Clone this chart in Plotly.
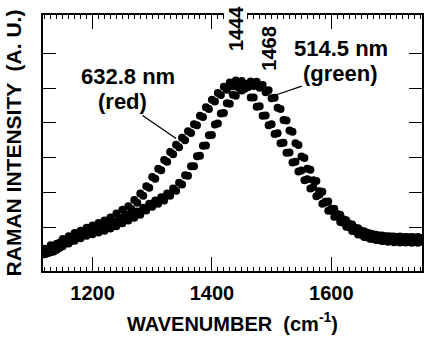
import plotly.graph_objects as go

WAVENUMBER = list(range(1120, 1755, 5))

RED_632 = [
    0.38, 0.25, 0.48, 0.30, 0.52, 0.41, 0.66, 0.53, 0.74, 0.61,
    0.83, 0.70, 0.90, 0.77, 0.98, 0.86, 1.05, 0.92, 1.12, 0.98,
    1.19, 1.07, 1.28, 1.16, 1.39, 1.27, 1.50, 1.37, 1.60, 1.52,
    1.78, 1.70, 1.97, 1.90, 2.18, 2.13, 2.44, 2.39, 2.68, 2.64,
    2.93, 2.88, 3.16, 3.10, 3.37, 3.30, 3.57, 3.50, 3.76, 3.71,
    3.96, 3.93, 4.20, 4.17, 4.45, 4.40, 4.66, 4.61, 4.86, 4.80,
    5.04, 4.95, 5.16, 5.05, 5.22, 5.08, 5.20, 4.98, 5.02, 4.73,
    4.73, 4.46, 4.48, 4.20, 4.21, 3.93, 3.96, 3.68, 3.70, 3.41,
    3.43, 3.14, 3.15, 2.86, 2.88, 2.60, 2.63, 2.35, 2.38, 2.11,
    2.15, 1.89, 1.93, 1.67, 1.71, 1.47, 1.53, 1.30, 1.38, 1.15,
    1.23, 1.01, 1.10, 0.89, 0.98, 0.79, 0.90, 0.72, 0.84, 0.67,
    0.80, 0.63, 0.76, 0.60, 0.74, 0.58, 0.73, 0.57, 0.72, 0.56,
    0.71, 0.56, 0.71, 0.55, 0.70, 0.55, 0.69,
]

GREEN_514 = [
    0.22, 0.37, 0.28, 0.45, 0.35, 0.55, 0.45, 0.63, 0.53, 0.72,
    0.61, 0.79, 0.68, 0.86, 0.75, 0.92, 0.80, 0.97, 0.85, 1.02,
    0.90, 1.07, 0.96, 1.13, 1.03, 1.21, 1.11, 1.29, 1.19, 1.37,
    1.27, 1.45, 1.36, 1.56, 1.48, 1.67, 1.59, 1.77, 1.67, 1.86,
    1.77, 1.97, 1.90, 2.11, 2.05, 2.28, 2.23, 2.49, 2.48, 2.75,
    2.75, 3.04, 3.05, 3.34, 3.35, 3.64, 3.65, 3.95, 3.98, 4.27,
    4.28, 4.56, 4.55, 4.81, 4.78, 5.00, 4.93, 5.12, 5.03, 5.19,
    5.06, 5.18, 5.01, 5.09, 4.88, 4.94, 4.71, 4.72, 4.43, 4.40,
    4.08, 4.07, 3.78, 3.74, 3.41, 3.36, 3.03, 2.99, 2.68, 2.65,
    2.35, 2.33, 2.03, 2.02, 1.73, 1.74, 1.48, 1.53, 1.31, 1.36,
    1.13, 1.20, 1.00, 1.08, 0.88, 0.97, 0.78, 0.88, 0.71, 0.82,
    0.66, 0.78, 0.63, 0.76, 0.61, 0.74, 0.60, 0.73, 0.59, 0.73,
    0.58, 0.72, 0.58, 0.72, 0.58, 0.72, 0.58,
]

X_LABELED = [1200, 1400, 1600]
X_LABEL_TEXT = ["1200", "1400", "1600"]
X_ODD_HUNDREDS = [1300, 1500, 1700]
X_FIFTIES = list(range(1150, 1751, 50))
Y_TICKS = [1, 2, 3, 4, 5, 6]
X_RANGE = [1117, 1752]
Y_RANGE = [-0.26, 7.10]

FONT = "Liberation Sans"
BLACK = "#000000"

fig = go.Figure()
fig.add_trace(go.Scatter(x=WAVENUMBER, y=RED_632, mode="markers",
                         marker=dict(color=BLACK, size=8), name="632.8 nm"))
fig.add_trace(go.Scatter(x=WAVENUMBER, y=GREEN_514, mode="markers",
                         marker=dict(color=BLACK, size=8), name="514.5 nm"))

overlay = dict(range=X_RANGE, overlaying="x", anchor="y", side="bottom",
               showgrid=False, zeroline=False, showline=False, mirror="ticks",
               ticks="inside", tickcolor=BLACK, showticklabels=False)

fig.update_layout(
    width=425, height=339,
    margin=dict(l=43, r=1, t=15, b=68),
    paper_bgcolor="white", plot_bgcolor="white",
    showlegend=False,
    font=dict(family=FONT, color=BLACK, size=20, weight="bold"),
    xaxis=dict(
        range=X_RANGE, showgrid=False, zeroline=False,
        showline=True, linecolor=BLACK, linewidth=1.5, mirror="ticks",
        ticks="inside", ticklen=14, tickwidth=1.2, tickcolor=BLACK,
        tickvals=X_LABELED, ticktext=X_LABEL_TEXT,
        tickfont=dict(family=FONT, size=20, weight="bold", color=BLACK),
        ticklabelstandoff=3,
        minor=dict(dtick=10, ticks="inside", ticklen=4, tickwidth=1,
                   tickcolor=BLACK, showgrid=False),
        title=dict(text="WAVENUMBER  (cm<sup>-1</sup>)", standoff=14,
                   font=dict(family=FONT, size=20, weight="bold", color=BLACK)),
    ),
    xaxis2=dict(overlay, tickvals=X_ODD_HUNDREDS, ticklen=14, tickwidth=1.2),
    xaxis3=dict(overlay, tickvals=X_FIFTIES, ticklen=8, tickwidth=1.2),
    yaxis=dict(
        range=Y_RANGE, showgrid=False, zeroline=False,
        showline=True, linecolor=BLACK, linewidth=1.5, mirror="ticks",
        ticks="inside", ticklen=13, tickwidth=1.2, tickcolor=BLACK,
        tickvals=Y_TICKS, showticklabels=False,
        title=dict(text="RAMAN INTENSITY  (A. U.)", standoff=14,
                   font=dict(family=FONT, size=21, weight="bold", color=BLACK)),
    ),
)

ann_font = dict(family=FONT, size=22, weight="bold", color=BLACK)
fig.add_annotation(x=1260, y=5.34, text="632.8 nm", showarrow=False, font=ann_font)
fig.add_annotation(x=1340, y=3.55, text="(red)", showarrow=True, arrowhead=0,
                   arrowwidth=1.3, arrowcolor=BLACK, ax=-54, ay=-37, font=ann_font)
fig.add_annotation(x=1617, y=6.15, text="514.5 nm", showarrow=False, font=ann_font)
fig.add_annotation(x=1507, y=4.80, text="(green)", showarrow=True, arrowhead=0,
                   arrowwidth=1.3, arrowcolor=BLACK, ax=65, ay=-22, font=ann_font)
fig.add_annotation(x=1440, y=6.72, text="1444", showarrow=False, textangle=-90,
                   font=dict(family=FONT, size=20, weight="bold", color=BLACK),
                   bgcolor="white", borderpad=0)
fig.add_annotation(x=1495, y=6.15, text="1468", showarrow=False, textangle=-90,
                   font=dict(family=FONT, size=20, weight="bold", color=BLACK),
                   bgcolor="white", borderpad=0)

fig.write_html("out.html")
